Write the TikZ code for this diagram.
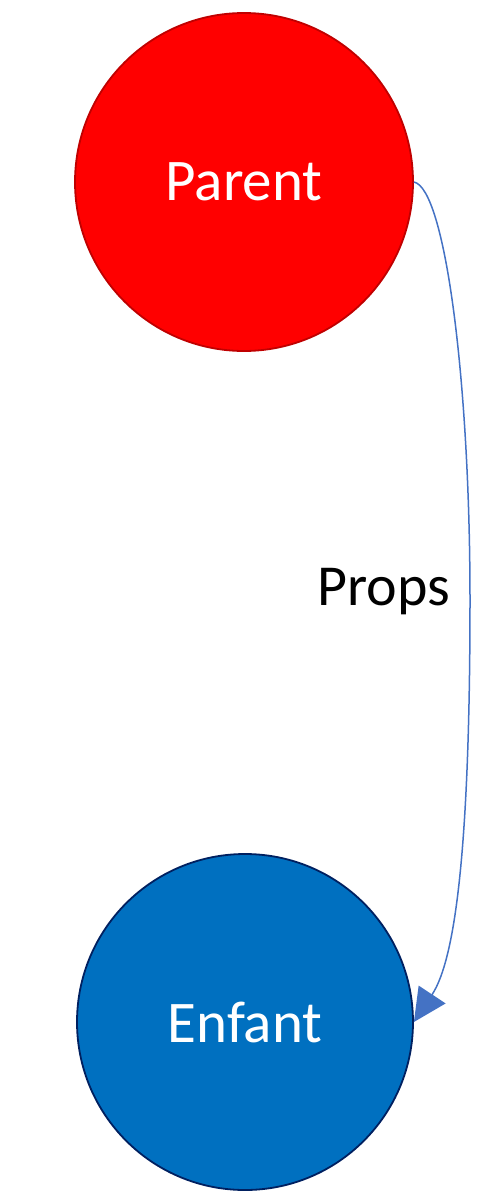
\documentclass[tikz,border=0pt]{standalone}
\usepackage{fontspec}
\setmainfont{Carlito}
\usetikzlibrary{arrows.meta}
\definecolor{parentfill}{RGB}{255,0,0}
\definecolor{parentline}{RGB}{192,0,0}
\definecolor{childfill}{RGB}{0,112,192}
\definecolor{childline}{RGB}{0,32,96}
\definecolor{linkblue}{RGB}{68,114,196}
\tikzset{
  bubble/.style={circle, minimum size=338pt, inner sep=0pt, line width=1.8pt,
    text=white, font=\fontsize{59}{62}\selectfont},
  link/.style={draw=linkblue, line width=1.5pt, -{Triangle[length=33pt,width=32pt]}},
  lbl/.style={font=\fontsize{58}{62}\selectfont, text=black}
}
\begin{document}
\begin{tikzpicture}[x=1pt,y=-1pt]
\useasboundingbox (0,0) rectangle (490,1202);
\node[bubble, fill=parentfill, draw=parentline] (P) at (244,182) {Parent};
\node[bubble, fill=childfill, draw=childline, minimum size=336pt] (E) at (245,1022) {Enfant};
\node[lbl] (L) at (384,592) {Props};
\coordinate (M) at (470,600);
\draw[link] (P.east) .. controls (445,188) and (470,380) .. (M)
  .. controls (470,850) and (455,960) .. (E.east);
\end{tikzpicture}
\end{document}
